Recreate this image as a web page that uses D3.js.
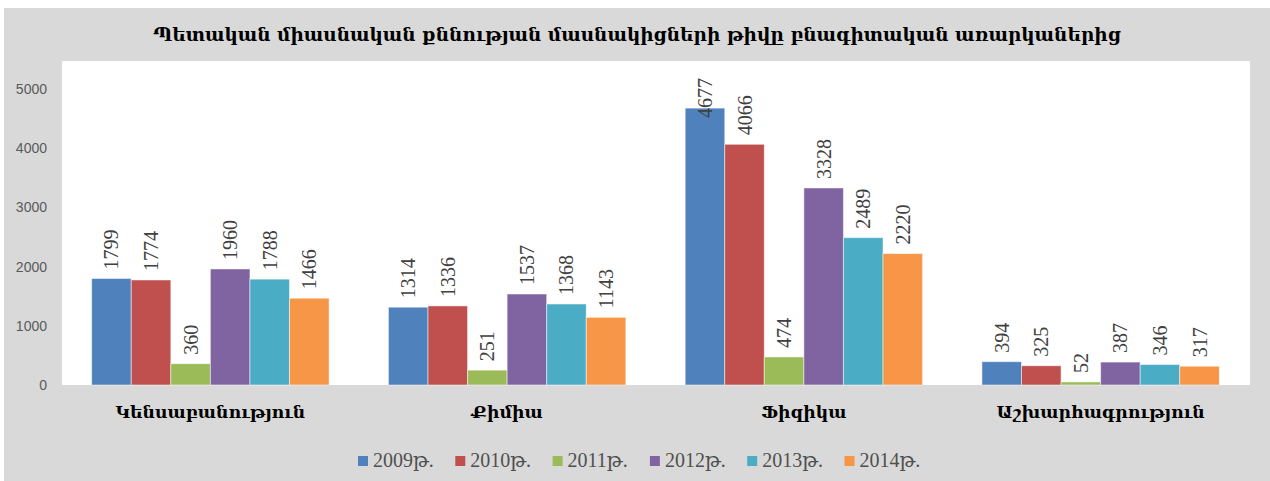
<!DOCTYPE html>
<meta charset="utf-8">
<style>
body { margin: 0; background: #fff; }
.title { font-family: "DejaVu Serif", serif; font-weight: bold; fill: #000; }
.cat { font-family: "DejaVu Serif", serif; font-weight: bold; fill: #000; }
.tick text { font-family: "Liberation Sans", Arial, sans-serif; font-size: 14px; fill: #595959; }
.label { font-family: "Liberation Serif", "DejaVu Serif", serif; font-size: 20px; fill: #404040; }
.legend text { font-family: "Liberation Serif", "DejaVu Serif", serif; font-size: 20px; fill: #505050; }
</style>
<body>
<script src="https://cdn.jsdelivr.net/npm/d3@7/dist/d3.min.js"></script>
<script>

var width = 1270,
    height = 481;

var title = "Պետական միասնական քննության մասնակիցների թիվը բնագիտական առարկաներից";

var categories = ["Կենսաբանություն", "Քիմիա", "Ֆիզիկա", "Աշխարհագրություն"];
var series = ["2009թ.", "2010թ.", "2011թ.", "2012թ.", "2013թ.", "2014թ."];
var colors = ["#4F81BD", "#C0504D", "#9BBB59", "#8064A2", "#4BACC6", "#F79646"];

// one array per year, in category order
var v2009 = [1799, 1314, 4677, 394],
    v2010 = [1774, 1336, 4066, 325],
    v2011 = [360, 251, 474, 52],
    v2012 = [1960, 1537, 3328, 387],
    v2013 = [1788, 1368, 2489, 346],
    v2014 = [1466, 1143, 2220, 317];
var values = [v2009, v2010, v2011, v2012, v2013, v2014];

var yTicks = [0, 1000, 2000, 3000, 4000, 5000];

var plot = {left: 62, right: 1250, top: 61, bottom: 385};

var svg = d3.select("body").append("svg")
    .attr("width", width)
    .attr("height", height);

// chart background
svg.append("rect")
    .attr("x", 4).attr("y", 8)
    .attr("width", width - 4).attr("height", height - 8)
    .attr("fill", "#d9d9d9");

svg.append("rect")
    .attr("x", plot.left).attr("y", plot.top)
    .attr("width", plot.right - plot.left).attr("height", plot.bottom - plot.top)
    .attr("fill", "#fff");

var x0 = d3.scaleBand()
    .domain(categories)
    .range([plot.left, plot.right - 1])
    .paddingInner(0.2)
    .paddingOuter(0.1);

var x1 = d3.scaleBand()
    .domain(series)
    .range([0, x0.bandwidth()]);

var y = d3.scaleLinear()
    .domain([0, 5000])
    .range([plot.bottom, 89]);

svg.append("text")
    .attr("class", "title")
    .attr("x", 637).attr("y", 41)
    .attr("text-anchor", "middle")
    .style("font-size", "18.5px")
    .text(title);

// y axis, labels only
var yAxis = svg.append("g")
    .attr("transform", "translate(" + (plot.left - 15) + ",0)")
    .call(d3.axisLeft(y).tickValues(yTicks).tickFormat(d3.format("d")).tickSize(0).tickPadding(0));
yAxis.select(".domain").remove();

var rows = [];
categories.forEach(function(c, i) {
  series.forEach(function(s, j) {
    rows.push({cat: c, ser: s, value: values[j][i], color: colors[j]});
  });
});

var bars = svg.append("g");

bars.selectAll("rect")
  .data(rows)
  .enter().append("rect")
    .attr("x", function(d) { return x0(d.cat) + x1(d.ser); })
    .attr("y", function(d) { return y(d.value); })
    .attr("width", x1.bandwidth())
    .attr("height", function(d) { return y(0) - y(d.value); })
    .attr("fill", function(d) { return d.color; })
    .attr("stroke", "#fff")
    .attr("stroke-opacity", 0.5)
    .attr("stroke-width", 1);

// rotated value labels, kept inside the chart
bars.selectAll("text")
  .data(rows)
  .enter().append("text")
    .attr("class", "label")
    .text(function(d) { return d.value; })
    .each(function(d) {
      var len = this.getComputedTextLength(),
          cx = x0(d.cat) + x1(d.ser) + x1.bandwidth() / 2,
          start = y(d.value) - 9;
      if (start - len < 78) start = 78 + len;
      d3.select(this)
        .attr("transform", "translate(" + (cx + 7) + "," + start + ") rotate(-90)");
    });

svg.append("g").selectAll("text")
  .data(categories)
  .enter().append("text")
    .attr("class", "cat")
    .attr("x", function(d) { return x0(d) + x0.bandwidth() / 2; })
    .attr("y", 418)
    .attr("text-anchor", "middle")
    .style("font-size", "17.3px")
    .text(function(d) { return d; });

var legend = svg.append("g")
    .attr("class", "legend")
    .attr("transform", "translate(358,461)");

var item = legend.selectAll("g")
  .data(series)
  .enter().append("g")
    .attr("transform", function(d, i) { return "translate(" + (i * 97.3) + ",0)"; });

item.append("rect")
    .attr("x", 0).attr("y", -5)
    .attr("width", 10).attr("height", 10)
    .attr("fill", function(d, i) { return colors[i]; });

item.append("text")
    .attr("x", 15).attr("y", 6)
    .text(function(d) { return d; });

</script>
